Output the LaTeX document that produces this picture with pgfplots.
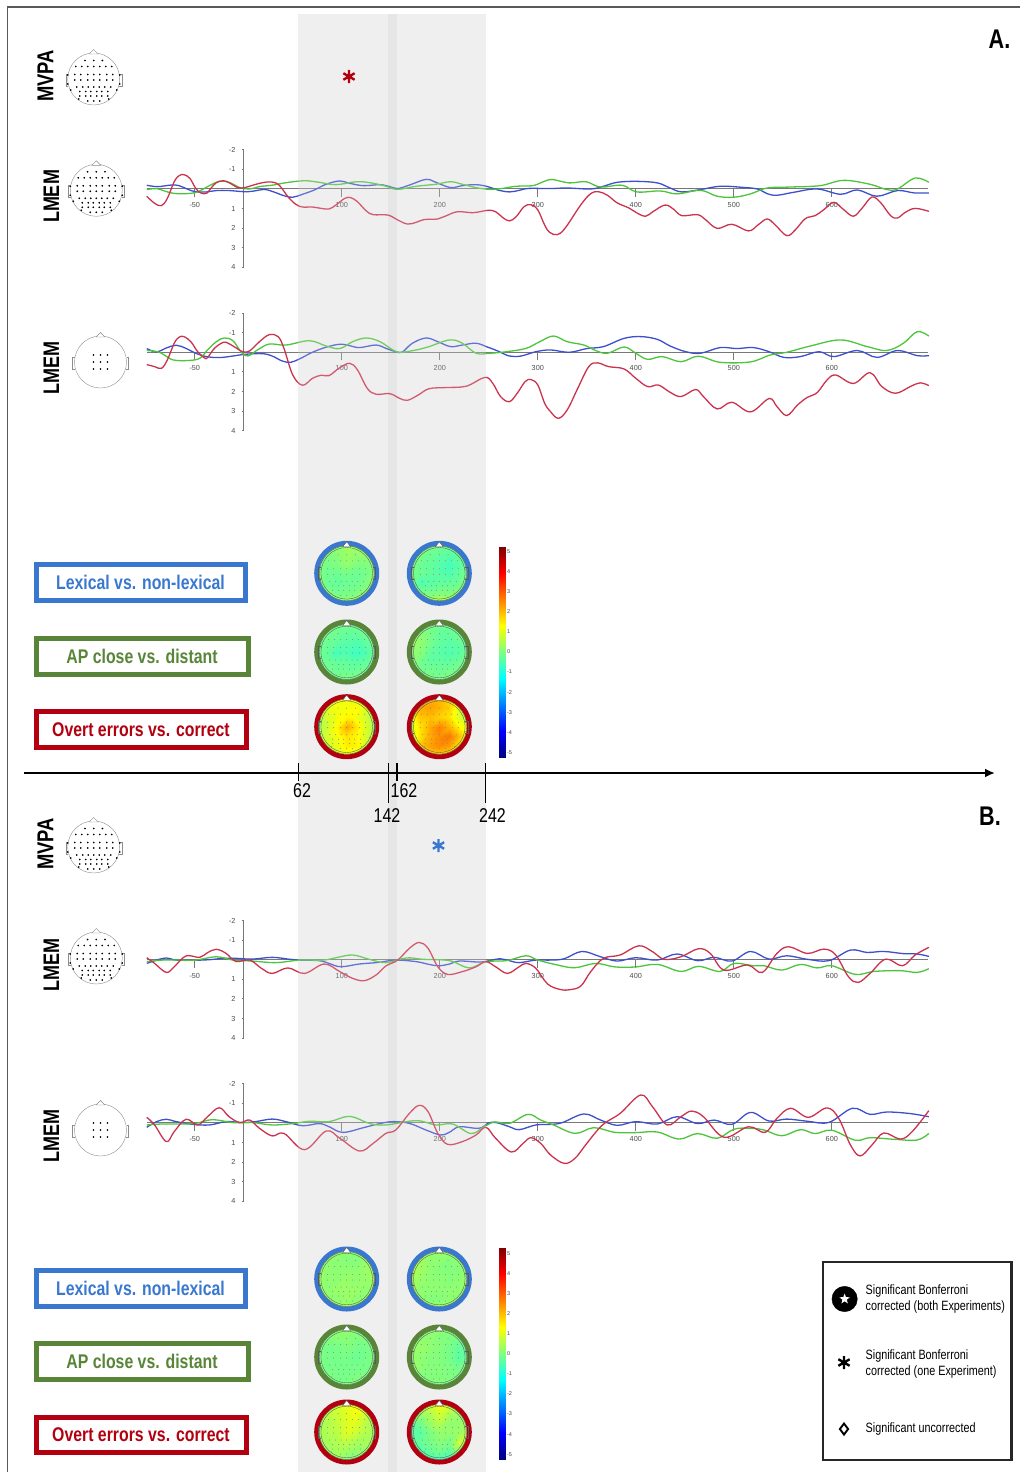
\documentclass[border=0pt]{standalone}
\usepackage{fontspec}
\setmainfont{Liberation Sans}
\newfontfamily\nar[FakeStretch=0.8]{Liberation Sans}
\usepackage{pgfplots}
\usepackage{pgfplotstable}
\pgfplotsset{compat=1.18}
\usetikzlibrary{arrows.meta,shapes.geometric}

\definecolor{erpred}{RGB}{203,50,78}
\definecolor{erpblue}{RGB}{60,80,205}
\definecolor{erpgreen}{RGB}{76,196,60}
\definecolor{axgray}{RGB}{120,120,120}
\definecolor{band}{RGB}{239,239,239}
\definecolor{bandd}{RGB}{230,230,230}
\definecolor{boxblue}{RGB}{58,120,208}
\definecolor{boxgreen}{RGB}{88,133,56}
\definecolor{boxred}{RGB}{178,0,16}

% electrode layout, px from the head centre
\pgfplotstableread{
x y
-8.7 -18.5
0 -18.5
8.7 -18.5
-18 -12.5
-12 -12.5
-6 -12.5
0 -12.5
6 -12.5
12 -12.5
18 -12.5
-19 -4.5
-13 -4.5
-6 -4.5
0 -4.5
6 -4.5
13 -4.5
19 -4.5
-19 1
-13 1
-6 1
0 1
6 1
13 1
19 1
-17 8
-11 8
-5.5 8
0 8
5.5 8
11 8
17 8
-14 12.5
-8 12.5
-3 12.5
3 12.5
8 12.5
14 12.5
-14 17
-8 17
-3 17
3 17
8 17
14 17
-6 22
0 22
6 22
-26 -4
26 -4
-26 5
26 5
-23 11
23 11
-15 20
15 20
}\elec
\pgfplotstableread{
x y
-7 -7
0 -7
7 -7
-7 0
0 0
7 0
-7 7
0 7
7 7
}\elecc

% scalp maps, 7 by 7, rows from the top, in microvolts
\pgfplotstableread[header=false,row sep=\\]{0.2\\0.2\\0.2\\0.3\\0.3\\0.3\\0.3\\%
0.1\\0.0\\0.1\\0.3\\0.2\\0.2\\0.3\\%
0.0\\-0.1\\0.0\\0.2\\0.0\\0.0\\0.2\\%
0.0\\-0.2\\-0.2\\-0.1\\-0.2\\-0.1\\0.2\\%
0.1\\-0.2\\-0.3\\-0.2\\-0.2\\0.0\\0.2\\%
0.2\\0.0\\-0.1\\-0.1\\0.0\\0.1\\0.3\\%
0.4\\0.3\\0.2\\0.2\\0.3\\0.4\\0.4\\}\mapAa
\pgfplotstableread[header=false,row sep=\\]{0.3\\0.1\\0.0\\-0.1\\-0.1\\0.0\\0.2\\%
0.2\\-0.1\\-0.2\\-0.3\\-0.4\\-0.2\\0.0\\%
0.1\\-0.2\\-0.3\\-0.4\\-0.6\\-0.4\\-0.1\\%
0.0\\-0.2\\-0.3\\-0.4\\-0.5\\-0.3\\0.0\\%
-0.1\\-0.5\\-0.4\\-0.3\\-0.3\\-0.2\\0.1\\%
0.2\\-0.1\\-0.1\\0.0\\0.0\\0.1\\0.3\\%
0.5\\0.4\\0.5\\0.7\\0.5\\0.4\\0.4\\}\mapAb
\pgfplotstableread[header=false,row sep=\\]{0.0\\0.0\\-0.1\\-0.1\\-0.1\\0.0\\0.1\\%
0.0\\-0.1\\-0.2\\-0.3\\-0.3\\-0.1\\0.0\\%
-0.1\\-0.2\\-0.3\\-0.4\\-0.5\\-0.3\\-0.1\\%
-0.1\\-0.3\\-0.6\\-0.5\\-0.7\\-0.5\\-0.1\\%
-0.1\\-0.2\\-0.3\\-0.3\\-0.4\\-0.3\\-0.1\\%
0.0\\-0.1\\-0.2\\-0.2\\-0.2\\-0.1\\0.0\\%
0.1\\0.0\\0.0\\0.0\\0.0\\0.0\\0.1\\}\mapAc
\pgfplotstableread[header=false,row sep=\\]{0.1\\0.0\\-0.1\\-0.1\\-0.1\\0.0\\0.2\\%
0.2\\0.1\\-0.1\\-0.3\\-0.3\\-0.1\\0.0\\%
0.4\\0.2\\-0.1\\-0.3\\-0.4\\-0.3\\-0.1\\%
0.3\\0.1\\-0.3\\-0.4\\-0.5\\-0.4\\-0.1\\%
0.1\\-0.1\\-0.3\\-0.3\\-0.3\\-0.2\\0.0\\%
0.1\\-0.1\\-0.1\\-0.2\\-0.1\\-0.1\\0.1\\%
0.2\\0.1\\0.0\\0.0\\0.0\\0.1\\0.2\\}\mapAd
\pgfplotstableread[header=false,row sep=\\]{1.0\\1.1\\1.2\\1.2\\1.1\\0.9\\0.8\\%
0.9\\1.1\\1.2\\1.2\\1.3\\1.0\\0.5\\%
0.6\\0.9\\1.2\\1.4\\1.2\\0.8\\0.4\\%
0.4\\0.8\\1.4\\2.2\\1.6\\0.9\\0.4\\%
0.5\\0.9\\1.2\\1.6\\1.4\\0.9\\0.4\\%
0.4\\0.8\\1.1\\1.5\\1.4\\0.9\\0.4\\%
0.6\\0.6\\0.8\\0.9\\0.8\\0.6\\0.6\\}\mapAe
\pgfplotstableread[header=false,row sep=\\]{1.5\\1.8\\2.0\\2.0\\1.7\\1.2\\1.0\\%
1.6\\2.2\\2.3\\2.1\\1.8\\1.0\\0.6\\%
1.3\\1.9\\2.0\\1.8\\1.6\\0.9\\0.7\\%
1.0\\1.6\\2.2\\2.6\\2.1\\1.4\\0.9\\%
0.8\\1.6\\2.2\\2.5\\2.7\\2.0\\1.1\\%
0.9\\1.9\\2.3\\2.5\\2.3\\1.4\\1.0\\%
1.2\\1.3\\1.6\\1.7\\1.5\\1.2\\1.1\\}\mapAf
\pgfplotstableread[header=false,row sep=\\]{0.25\\0.25\\0.25\\0.15\\0.15\\0.25\\0.35\\%
0.25\\0.15\\0.15\\0.05\\0.05\\0.25\\0.35\\%
0.25\\0.15\\0.15\\0.15\\0.15\\0.25\\0.35\\%
0.25\\0.15\\0.15\\0.25\\0.15\\0.25\\0.35\\%
0.25\\0.15\\0.25\\0.25\\0.25\\0.15\\0.35\\%
0.25\\0.15\\0.15\\0.25\\0.15\\0.15\\0.35\\%
0.35\\0.35\\0.25\\0.25\\0.25\\0.35\\0.35\\}\mapBa
\pgfplotstableread[header=false,row sep=\\]{0.35\\0.35\\0.25\\0.25\\0.25\\0.25\\0.35\\%
0.35\\0.35\\0.15\\0.15\\0.05\\0.15\\0.25\\%
0.45\\0.35\\0.15\\0.05\\0.05\\0.05\\0.25\\%
0.45\\0.25\\0.15\\0.15\\0.05\\0.15\\0.25\\%
0.35\\0.15\\0.15\\0.15\\0.15\\0.15\\0.25\\%
0.35\\0.15\\0.05\\0.05\\0.15\\0.15\\0.25\\%
0.35\\0.35\\0.25\\0.25\\0.25\\0.25\\0.35\\}\mapBb
\pgfplotstableread[header=false,row sep=\\]{0.1\\0.1\\0.15\\0.15\\0.1\\0.1\\0.1\\%
0.0\\0.0\\0.1\\0.1\\0.0\\0.0\\0.1\\%
0.0\\-0.1\\-0.1\\0.0\\-0.1\\-0.1\\0.0\\%
0.0\\-0.1\\-0.1\\-0.1\\-0.2\\-0.1\\0.0\\%
0.0\\-0.1\\-0.1\\-0.1\\-0.1\\-0.1\\0.0\\%
0.0\\0.0\\-0.1\\-0.1\\0.0\\0.0\\0.1\\%
0.1\\0.1\\0.0\\0.0\\0.0\\0.1\\0.1\\}\mapBc
\pgfplotstableread[header=false,row sep=\\]{0.25\\0.25\\0.15\\0.15\\0.05\\0.05\\0.05\\%
0.25\\0.15\\0.15\\0.05\\0.0\\-0.1\\-0.1\\%
0.25\\0.25\\0.15\\0.05\\-0.1\\-0.3\\-0.2\\%
0.25\\0.15\\0.05\\0.05\\-0.1\\-0.4\\-0.2\\%
0.25\\0.15\\0.05\\0.05\\0.0\\-0.1\\-0.1\\%
0.15\\0.05\\0.05\\0.05\\0.0\\0.0\\0.0\\%
0.15\\0.15\\0.05\\0.05\\0.05\\0.05\\0.05\\}\mapBd
\pgfplotstableread[header=false,row sep=\\]{0.5\\0.6\\0.8\\1.1\\1.3\\0.9\\0.5\\%
0.5\\0.6\\0.8\\1.0\\1.2\\0.8\\0.5\\%
0.4\\0.5\\0.7\\1.0\\1.0\\0.6\\0.4\\%
0.4\\0.5\\0.6\\1.0\\0.8\\0.5\\0.4\\%
0.3\\0.4\\0.5\\0.6\\0.4\\0.4\\0.4\\%
0.3\\0.3\\0.4\\0.3\\0.2\\0.3\\0.4\\%
0.4\\0.4\\0.2\\0.0\\0.1\\0.3\\0.4\\}\mapBe
\pgfplotstableread[header=false,row sep=\\]{0.9\\0.9\\1.0\\1.2\\1.0\\0.6\\0.5\\%
0.4\\0.3\\0.5\\0.9\\0.5\\0.3\\0.3\\%
0.0\\-0.1\\0.3\\0.6\\0.2\\0.2\\0.3\\%
-0.3\\-0.4\\0.0\\0.2\\0.2\\0.3\\0.4\\%
-0.3\\-0.3\\-0.1\\0.1\\-0.1\\0.8\\0.5\\%
-0.3\\-0.4\\-0.3\\-0.1\\-0.3\\0.2\\0.3\\%
0.2\\-0.3\\-0.6\\-0.7\\-0.5\\0.0\\0.3\\}\mapBf

\pgfplotsset{
  px/.style={width=1020pt,height=1472pt,scale only axis,xmin=0,xmax=1020,ymin=0,ymax=1472,
    y dir=reverse,hide axis,clip=false,anchor=center,at={(510pt,736pt)}},
  erp/.style={width=781.3pt,height=117.6pt,scale only axis,anchor=center,
    xmin=-98.7,xmax=698.5,ymin=-2,ymax=4,y dir=reverse,clip=false,
    axis x line=middle,axis y line=middle,
    axis line style={-,draw=axgray,line width=1pt},
    xtick={-50,100,200,300,400,500,600},ytick={-2,-1,1,2,3,4},
    tick align=outside,
    /pgf/number format/assume math mode=true,
    tick style={draw=axgray,line width=0.8pt},
    xtick style={/pgfplots/major tick length=-8pt},
    ytick style={/pgfplots/major tick length=2pt},
    xticklabel style={font=\fontsize{7.3}{8}\selectfont,text=black!70,yshift=-5.5pt},
    yticklabel style={font=\fontsize{7.3}{8}\selectfont,text=black!70,xshift=-0.5pt},
    smooth,tension=0.6},
  curve/.style={line width=1.3pt,line join=round},
  colbar/.style={width=6.2pt,scale only axis,anchor=center,xmin=0,xmax=1,
    axis line style={draw=black!25,line width=0.3pt},xtick=\empty,ytick={-5,...,5},
    ytick pos=right,yticklabel pos=right,ytick style={draw=none},
    /pgf/number format/assume math mode=true,
    yticklabel style={font=\fontsize{5.5}{6}\selectfont,text=black!75,xshift=-1.5pt},
    colormap/jet,point meta min=-5.25,point meta max=5.25},
}

\newcommand\topo[3]{%
  \begin{scope}
  \clip (#1pt,{1472pt-#2pt}) circle (28pt);
  \begin{axis}[width=58pt,height=58pt,scale only axis,hide axis,anchor=center,
    at={(#1pt,{1472pt-#2pt})},xmin=0,xmax=6,ymin=0,ymax=6,colormap/jet,
    point meta min=-5.25,point meta max=5.25]
  \addplot[surf,shader=interp,mesh/cols=7,point meta=\thisrowno{0}]
    table[x index=0,y index=0,x expr={mod(\coordindex,7)},y expr={6-floor(\coordindex/7)}] {#3};
  \end{axis}
  \end{scope}}

\newcommand\ring[3]{%
  \draw[#3,line width=4.8pt] (axis cs:#1,#2) circle (30.1pt);
  \draw[black!65,line width=0.35pt] (axis cs:#1,#2) circle (27.5pt);
  \draw[black!65,line width=0.35pt] (axis cs:#1,#2) circle (25.8pt);
  \addplot[draw=black!70,line width=0.35pt,fill=white] coordinates {(#1-4,#2-26.5)(#1,#2-31.5)(#1+4,#2-26.5)} --cycle;
  \addplot[draw=black!65,line width=0.35pt] coordinates {(#1-25.8,#2-6)(#1-28.5,#2-6)(#1-28.5,#2+6)(#1-25.8,#2+6)};
  \addplot[draw=black!65,line width=0.35pt] coordinates {(#1+25.8,#2-6)(#1+28.5,#2-6)(#1+28.5,#2+6)(#1+25.8,#2+6)};
  \addplot[only marks,mark=*,mark size=0.22pt,black!45] table[x expr=\thisrow{x}+#1,y expr=\thisrow{y}+#2] {\elec};}

\newcommand\head[3]{%
  \draw[black!45,line width=0.4pt,fill=white] (axis cs:#1,#2) circle (26pt);
  \addplot[draw=black!45,line width=0.4pt,fill=white] coordinates {(#1-4.5,#2-25)(#1,#2-29.5)(#1+4.5,#2-25)} --cycle;
  \addplot[draw=black!45,line width=0.4pt] coordinates {(#1-26,#2-5)(#1-28,#2-5)(#1-28,#2+7)(#1-25.5,#2+7)};
  \addplot[draw=black!45,line width=0.4pt] coordinates {(#1+26,#2-5)(#1+28,#2-5)(#1+28,#2+7)(#1+25.5,#2+7)};
  \addplot[only marks,mark=*,mark size=0.62pt,black] table[x expr=\thisrow{x}+#1,y expr=\thisrow{y}+#2] {#3};}

\newcommand\lab[6]{% x0 x1 y0 y1 colour text
  \addplot[draw=#5,line width=5pt,line join=miter] coordinates {(#1+2.5,#3+2.5)(#2-2.5,#3+2.5)(#2-2.5,#4-2.5)(#1+2.5,#4-2.5)} --cycle;
  \node[text=#5] at (axis cs:{(#1+#2)/2},{(#3+#4)/2}) {\fontsize{19.8}{24}\nar\bfseries #6};}

\begin{document}
\begin{tikzpicture}
\path[use as bounding box] (0,0) rectangle (1020pt,1472pt);

\begin{axis}[px]
% shaded windows
\addplot[fill=band,draw=none] coordinates {(298,14.5)(486,14.5)(486,1472)(298,1472)} --cycle;
\addplot[fill=bandd,draw=none] coordinates {(387.5,14.5)(397,14.5)(397,1472)(387.5,1472)} --cycle;
% frame
\addplot[draw=black!65,line width=1.3pt] coordinates {(7.5,1472)(7.5,7)(1020,7)};
% time axis
\addplot[-{Latex[length=10pt,width=9pt]},line width=2.5pt] coordinates {(24,773)(995,773)};
\addplot[line width=1.1pt] coordinates {(298.3,763)(298.3,781)};
\addplot[line width=1.1pt] coordinates {(388.7,763)(388.7,803)};
\addplot[line width=1.1pt] coordinates {(397,763)(397,781)};
\addplot[line width=1.1pt] coordinates {(485.7,763)(485.7,803)};
\node at (axis cs:302,791) {\fontsize{20}{22}\nar 62};
\node at (axis cs:404,791) {\fontsize{20}{22}\nar 162};
\node at (axis cs:387,816) {\fontsize{20}{22}\nar 142};
\node at (axis cs:492.5,816) {\fontsize{20}{22}\nar 242};
% panel letters
\node at (axis cs:999.5,39) {\fontsize{27}{30}\nar\bfseries A.};
\node at (axis cs:990,816) {\fontsize{27}{30}\nar\bfseries B.};
% row names
\node[rotate=90] at (axis cs:45.5,76) {\fontsize{23}{26}\nar\bfseries MVPA};
\node[rotate=90] at (axis cs:51.5,196.5) {\fontsize{22.5}{26}\nar\bfseries LMEM};
\node[rotate=90] at (axis cs:51.5,368) {\fontsize{22.5}{26}\nar\bfseries LMEM};
\node[rotate=90] at (axis cs:45.5,844) {\fontsize{23}{26}\nar\bfseries MVPA};
\node[rotate=90] at (axis cs:51.5,965) {\fontsize{22.5}{26}\nar\bfseries LMEM};
\node[rotate=90] at (axis cs:51.5,1136) {\fontsize{22.5}{26}\nar\bfseries LMEM};
\head{93.7}{79}{\elec}
\head{96.3}{190.3}{\elec}
\head{100.5}{362}{\elecc}
\head{93.7}{847}{\elec}
\head{96.3}{958}{\elec}
\head{100.5}{1130}{\elecc}
% significance marks
\addplot[only marks,mark=asterisk,mark size=6.5pt,line width=2.4pt,boxred] coordinates {(349,76.5)};
\addplot[only marks,mark=asterisk,mark size=6.5pt,line width=2.4pt,boxblue] coordinates {(438.5,845.5)};
% contrast labels
\lab{33.5}{247.5}{562}{603}{boxblue}{Lexical vs. non-lexical}
\lab{33.5}{250.5}{635.7}{676.7}{boxgreen}{AP close vs. distant}
\lab{33.5}{248.5}{709}{749.7}{boxred}{Overt errors vs. correct}
\lab{33.5}{247.5}{1267.5}{1308.5}{boxblue}{Lexical vs. non-lexical}
\lab{33.5}{250.5}{1341.2}{1382.2}{boxgreen}{AP close vs. distant}
\lab{33.5}{248.5}{1414.5}{1455.2}{boxred}{Overt errors vs. correct}
% key
\addplot[draw=black!85,line width=2.6pt,fill=white,line join=miter] coordinates {(823,1262)(1011.5,1262)(1011.5,1460)(823,1460)} --cycle;
\addplot[only marks,mark=*,mark size=12.7pt,black] coordinates {(844.6,1299)};
\addplot[only marks,mark=asterisk,mark size=6.5pt,line width=2.4pt,black] coordinates {(844,1362.5)};
\addplot[only marks,mark=diamond,mark size=5.5pt,line width=1.9pt,black] coordinates {(844,1429)};
\node[anchor=west,inner sep=0pt] at (axis cs:865.5,1290.7) {\fontsize{13.5}{15}\nar Significant Bonferroni};
\node[anchor=west,inner sep=0pt] at (axis cs:865.5,1306.7) {\fontsize{13.5}{15}\nar corrected (both Experiments)};
\node[anchor=west,inner sep=0pt] at (axis cs:865.5,1355.7) {\fontsize{13.5}{15}\nar Significant Bonferroni};
\node[anchor=west,inner sep=0pt] at (axis cs:865.5,1372) {\fontsize{13.5}{15}\nar corrected (one Experiment)};
\node[anchor=west,inner sep=0pt] at (axis cs:865.5,1428.7) {\fontsize{13.5}{15}\nar Significant uncorrected};
\end{axis}

% A, whole scalp
\begin{axis}[erp,at={(537.7pt,1263.4pt)}]
\addplot[curve,erpblue] coordinates {(-99,-0.19)(-88,-0.12)(-74,-0.20)(-66,-0.17)(-57,0.02)(-49,0.14)(-38,0.15)(-28,0.08)(-15,0.08)(1,0.14)(11,0.10)(21,0.02)(30,0.14)(42,0.36)(50,0.42)(60,0.27)(72,0.05)(84,-0.24)(98,-0.41)(108,-0.29)(122,-0.17)(139,-0.22)(149,-0.12)(157,-0.02)(169,-0.20)(186,-0.49)(196,-0.34)(211,-0.07)(223,-0.17)(237,-0.22)(249,-0.12)(259,0.05)(271,0.15)(281,0.07)(291,-0.03)(312,-0.02)(330,-0.05)(354,0)(367,-0.14)(381,-0.34)(401,-0.39)(422,-0.31)(435,-0.05)(447,0.15)(466,0.03)(486,-0.14)(507,-0.09)(524,0)(534,0.24)(544,0.32)(561,0.17)(585,0)(609,0.27)(626,0.05)(646,0.37)(667,0.08)(684,0.20)(699,0.20)};
\addplot[curve,erpgreen] coordinates {(-99,0.03)(-89,-0.02)(-81,0.10)(-72,0.22)(-59,0.24)(-47,0.15)(-37,-0.12)(-25,-0.39)(-15,-0.34)(-4,-0.07)(6,0)(16,-0.12)(30,-0.20)(43,-0.32)(62,-0.42)(77,-0.34)(94,-0.22)(115,-0.37)(130,-0.31)(145,-0.14)(157,0.02)(176,-0.14)(196,-0.24)(211,-0.37)(223,-0.24)(237,-0.07)(251,0.02)(264,-0.03)(278,-0.14)(295,-0.17)(306,-0.38)(315,-0.48)(332,-0.31)(349,-0.37)(364,-0.10)(386,-0.19)(401,0.15)(425,0.10)(442,0.25)(466,0.07)(483,0.37)(500,0.42)(517,0.25)(534,-0.05)(558,-0.10)(588,-0.17)(612,-0.44)(639,-0.24)(656,0.03)(667,0)(685,-0.56)(699,-0.34)};
\addplot[curve,erpred] coordinates {(-99,0.37)(-91,0.73)(-84,0.85)(-78,0.48)(-71,-0.37)(-66,-0.68)(-61,-0.73)(-55,-0.54)(-49,-0.03)(-44,0.20)(-38,0.22)(-33,-0.07)(-28,-0.32)(-21,-0.42)(-15,-0.32)(-6,-0.07)(1,-0.07)(9,-0.19)(19,-0.32)(28,-0.36)(36,-0.20)(45,0.39)(53,0.78)(60,0.92)(70,0.92)(79,0.99)(87,1.02)(94,0.82)(103,0.48)(109,0.44)(116,0.65)(125,1.12)(132,1.31)(147,1.33)(157,1.58)(167,1.79)(176,1.70)(184,1.56)(198,1.53)(206,1.38)(218,1.16)(234,1.21)(249,1.09)(257,1.16)(264,1.45)(271,1.63)(278,1.41)(286,0.90)(293,0.80)(300,1.07)(307,1.84)(312,2.21)(320,2.33)(328,1.99)(344,0.80)(354,0.24)(362,0.14)(371,0.32)(381,0.71)(393,0.97)(401,1.22)(410,1.39)(418,1.14)(430,0.82)(439,1.05)(447,1.36)(463,1.31)(471,1.56)(483,2.01)(498,1.80)(515,2.14)(525,1.82)(534,1.53)(542,1.82)(554,2.38)(563,2.07)(573,1.51)(583,1.36)(592,1.05)(602,0.68)(612,1.05)(622,1.39)(631,0.97)(641,0.41)(650,0.71)(660,1.36)(667,1.48)(675,1.19)(685,0.99)(699,1.14)};
\end{axis}

% A, central electrodes
\begin{axis}[erp,at={(537.7pt,1100.1pt)}]
\addplot[curve,erpblue] coordinates {(-99,-0.19)(-89,-0.02)(-79,-0.22)(-69,-0.36)(-59,-0.20)(-49,0.05)(-38,0.22)(-25,0.27)(-11,0.19)(2,0.10)(19,0.07)(29,0.19)(39,0.44)(48,0.51)(58,0.31)(70,0)(84,-0.26)(98,-0.41)(108,-0.34)(118,-0.24)(135,-0.37)(145,-0.20)(156,-0.02)(162,-0.02)(172,-0.46)(186,-0.73)(198,-0.54)(211,-0.29)(223,-0.37)(237,-0.46)(249,-0.26)(259,-0.07)(271,0.19)(283,0.19)(298,-0.03)(313,-0.12)(332,0)(350,-0.19)(367,-0.29)(388,-0.71)(405,-0.80)(422,-0.66)(435,-0.32)(451,-0.03)(466,0.05)(486,-0.24)(503,-0.19)(520,-0.24)(536,-0.03)(551,0.26)(568,0.22)(587,-0.03)(602,0.22)(626,-0.09)(646,0.26)(667,-0.09)(687,0.17)(699,0.17)};
\addplot[curve,erpgreen] coordinates {(-99,-0.09)(-88,-0.03)(-81,0.14)(-72,0.39)(-57,0.42)(-45,0.31)(-37,-0.12)(-28,-0.54)(-20,-0.73)(-11,-0.59)(-3,-0.03)(4,0.19)(14,-0.12)(26,-0.42)(43,-0.37)(67,-0.59)(84,-0.32)(98,-0.19)(111,-0.54)(125,-0.73)(139,-0.54)(152,-0.12)(160,0)(176,-0.12)(189,-0.29)(210,-0.63)(223,-0.46)(237,0.05)(251,0.05)(268,-0.03)(288,-0.20)(302,-0.54)(316,-0.83)(330,-0.54)(347,-0.37)(359,-0.09)(371,0.05)(388,-0.27)(400,0.05)(412,0.36)(427,0.22)(446,0.48)(464,0.20)(486,0.51)(517,0.49)(537,0.14)(554,0)(578,-0.32)(609,-0.63)(636,-0.29)(656,-0.09)(673,-0.46)(687,-1.05)(699,-0.83)};
\addplot[curve,erpred] coordinates {(-99,0.63)(-91,0.73)(-84,0.82)(-78,0.39)(-71,-0.46)(-66,-0.77)(-61,-0.80)(-54,-0.54)(-47,-0.03)(-40,0.29)(-37,0.27)(-30,-0.20)(-23,-0.46)(-18,-0.51)(-10,-0.29)(-1,-0.03)(6,-0.07)(16,-0.54)(26,-0.90)(35,-0.80)(41,-0.20)(50,1.16)(60,1.68)(70,1.33)(79,1.17)(87,1.19)(97,0.82)(108,0.56)(116,0.90)(126,1.84)(135,2.14)(149,2.11)(159,2.35)(167,2.45)(178,2.18)(189,1.86)(206,1.80)(227,1.73)(246,1.28)(254,1.58)(262,2.26)(271,2.52)(279,2.09)(287,1.50)(293,1.39)(300,1.67)(307,2.60)(313,3.03)(321,3.37)(330,2.94)(340,1.92)(352,0.73)(361,0.54)(372,0.73)(388,0.85)(400,1.33)(412,1.75)(423,1.67)(434,2.01)(446,2.26)(461,1.90)(469,2.26)(483,2.89)(498,2.55)(517,3.04)(536,2.36)(544,2.77)(554,3.23)(565,2.69)(575,2.30)(585,2.06)(595,1.42)(604,1.16)(622,1.59)(639,1.04)(651,1.75)(665,2.09)(680,1.75)(690,1.56)(699,1.70)};
\end{axis}

% B, whole scalp
\begin{axis}[erp,at={(537.7pt,492.7pt)}]
\addplot[curve,erpblue] coordinates {(-99,0.19)(-89,0.02)(-79,-0.09)(-69,0.02)(-52,0.03)(-35,0)(-21,-0.07)(-8,-0.07)(9,-0.03)(29,-0.12)(47,-0.02)(57,0.02)(77,0.05)(87,0.19)(99,0.36)(118,0.22)(137,0.14)(155,0.02)(176,0.10)(189,0.24)(199,0.31)(210,0.22)(220,0.07)(240,0.12)(251,0.05)(261,-0.05)(271,0.05)(281,0.15)(298,0.02)(313,0.02)(327,-0.05)(345,-0.42)(364,-0.15)(381,0.07)(400,-0.10)(422,0.02)(442,-0.29)(463,0.05)(480,-0.12)(498,0.07)(517,-0.42)(536,-0.03)(554,-0.20)(575,-0.02)(597,0.05)(619,-0.49)(636,-0.37)(653,-0.42)(673,-0.31)(687,-0.29)(699,-0.17)};
\addplot[curve,erpgreen] coordinates {(-99,0.10)(-83,0.02)(-66,0.02)(-49,0.02)(-28,-0.15)(-11,0.02)(9,0.07)(33,0.15)(57,0.02)(81,0.02)(94,-0.10)(111,-0.24)(128,-0.02)(145,0.15)(166,-0.09)(183,-0.02)(210,0.05)(230,0.42)(247,0.10)(268,0.05)(288,-0.20)(300,0.02)(320,0.27)(338,0.41)(359,0.19)(379,0.37)(400,0.37)(422,0.24)(446,0.60)(464,0.34)(486,0.60)(500,0.19)(520,0.31)(531,0.31)(549,0.53)(568,0.24)(585,0.42)(600,0.31)(624,0.75)(643,0.60)(670,0.56)(687,0.65)(699,0.46)};
\addplot[curve,erpred] coordinates {(-99,-0.10)(-91,0.19)(-79,0.65)(-71,0.36)(-59,-0.19)(-45,-0.12)(-37,-0.36)(-28,-0.53)(-18,-0.32)(-8,0.09)(6,0.02)(18,0.44)(29,0.70)(45,0.42)(62,0.70)(82,0.22)(98,0.61)(111,0.95)(123,1.07)(135,0.78)(145,0.32)(157,0.02)(169,-0.58)(179,-0.88)(188,-0.58)(198,0.36)(208,0.75)(223,0.61)(237,0.36)(247,0.10)(257,0.36)(269,0.70)(281,0.36)(288,0.19)(298,0.44)(310,1.24)(323,1.52)(333,1.53)(344,1.34)(354,0.61)(367,-0.07)(384,-0.24)(403,-0.71)(417,-0.41)(429,-0.02)(446,-0.15)(464,-0.56)(476,-0.32)(490,0.53)(514,0.27)(529,0.65)(544,-0.32)(556,-0.66)(575,-0.32)(592,-0.54)(604,-0.24)(617,0.87)(627,1.16)(639,0.70)(655,-0.03)(672,0.31)(685,-0.24)(699,-0.63)};
\end{axis}

% B, central electrodes
\begin{axis}[erp,at={(537.7pt,329.4pt)}]
\addplot[curve,erpblue] coordinates {(-99,0.22)(-89,-0.07)(-79,-0.19)(-69,-0.07)(-52,0.07)(-35,0.10)(-18,-0.07)(-1,-0.02)(12,-0.07)(29,-0.20)(43,-0.07)(60,0.14)(77,0.03)(87,0.19)(101,0.48)(122,0.24)(137,0.05)(152,-0.07)(169,0.02)(186,0.36)(201,0.61)(211,0.44)(220,0.19)(240,0.27)(249,0.02)(257,-0.03)(271,0.19)(281,0.34)(298,0.10)(313,0.07)(325,-0.02)(347,-0.46)(364,-0.15)(381,0.12)(400,-0.07)(422,0.05)(442,-0.32)(463,0.03)(480,-0.15)(498,0.07)(517,-0.54)(536,-0.10)(554,-0.20)(575,-0.09)(597,-0.03)(621,-0.75)(639,-0.44)(656,-0.56)(680,-0.48)(699,-0.32)};
\addplot[curve,erpgreen] coordinates {(-99,0.10)(-83,0.05)(-66,0.05)(-49,0.02)(-32,-0.17)(-11,-0.02)(9,-0.02)(29,0.10)(50,0.03)(67,-0.09)(87,-0.07)(108,-0.34)(128,0.02)(145,0.10)(176,-0.12)(196,0.10)(213,0.05)(232,0.54)(245,0.19)(256,-0.05)(271,0.02)(290,-0.44)(303,-0.15)(316,0.10)(338,0.53)(357,0.24)(379,0.48)(400,0.49)(422,0.46)(444,0.82)(463,0.54)(483,0.78)(500,0.32)(517,0.27)(531,0.36)(549,0.65)(568,0.34)(583,0.54)(600,0.37)(624,0.88)(639,0.75)(663,0.83)(687,0.87)(699,0.53)};
\addplot[curve,erpred] coordinates {(-99,-0.29)(-91,0.10)(-79,0.95)(-71,0.44)(-59,-0.19)(-47,0.10)(-37,-0.32)(-25,-0.78)(-15,-0.32)(-4,-0.02)(6,-0.15)(16,0.27)(29,0.66)(41,0.53)(62,1.36)(84,0.41)(98,0.78)(118,1.43)(132,1.04)(145,0.53)(155,0.36)(169,-0.49)(179,-0.90)(188,-0.58)(198,0.53)(208,1.09)(223,0.95)(237,0.61)(247,0.22)(257,0.78)(273,1.48)(285,1.04)(293,0.75)(303,1.04)(313,1.63)(327,2.06)(338,1.80)(350,1.04)(366,0.10)(384,-0.49)(405,-1.43)(417,-0.83)(432,0.10)(446,-0.32)(457,-0.61)(469,-0.32)(490,0.73)(515,0.19)(532,0.48)(544,-0.24)(558,-0.75)(576,-0.29)(595,-0.77)(607,-0.24)(619,1.12)(629,1.68)(641,1.12)(653,0.51)(670,0.82)(682,0.44)(699,-0.63)};
\end{axis}

% scalp maps
\topo{346.7}{573.3}{\mapAa}
\topo{439.3}{573.3}{\mapAb}
\topo{346.7}{652}{\mapAc}
\topo{439.3}{652}{\mapAd}
\topo{346.7}{726.7}{\mapAe}
\topo{439.3}{726.7}{\mapAf}
\topo{346.7}{1279}{\mapBa}
\topo{439.3}{1279}{\mapBb}
\topo{346.7}{1357}{\mapBc}
\topo{439.3}{1357}{\mapBd}
\topo{346.7}{1432}{\mapBe}
\topo{439.3}{1432}{\mapBf}

\begin{axis}[px]
% the windows veil the traces a little
\addplot[fill=band,draw=none,opacity=0.22] coordinates {(298,145)(387.5,145)(387.5,440)(298,440)} --cycle;
\addplot[fill=bandd,draw=none,opacity=0.22] coordinates {(387.5,145)(397,145)(397,440)(387.5,440)} --cycle;
\addplot[fill=band,draw=none,opacity=0.22] coordinates {(397,145)(486,145)(486,440)(397,440)} --cycle;
\addplot[fill=band,draw=none,opacity=0.22] coordinates {(298,915)(387.5,915)(387.5,1210)(298,1210)} --cycle;
\addplot[fill=bandd,draw=none,opacity=0.22] coordinates {(387.5,915)(397,915)(397,1210)(387.5,1210)} --cycle;
\addplot[fill=band,draw=none,opacity=0.22] coordinates {(397,915)(486,915)(486,1210)(397,1210)} --cycle;
\ring{346.7}{573.3}{boxblue}
\ring{439.3}{573.3}{boxblue}
\ring{346.7}{652}{boxgreen}
\ring{439.3}{652}{boxgreen}
\ring{346.7}{726.7}{boxred}
\ring{439.3}{726.7}{boxred}
\ring{346.7}{1279}{boxblue}
\ring{439.3}{1279}{boxblue}
\ring{346.7}{1357}{boxgreen}
\ring{439.3}{1357}{boxgreen}
\ring{346.7}{1432}{boxred}
\ring{439.3}{1432}{boxred}
\node[star,star points=5,star point ratio=2.4,fill=white,inner sep=0pt,minimum size=11pt] at (axis cs:844.6,1299) {};
\end{axis}

% colour scales
\begin{axis}[colbar,height=210.6pt,at={(502pt,820pt)},ymin=-5.24,ymax=5.24]
\addplot[surf,shader=interp,mesh/cols=2,point meta=y] coordinates {(0,-5.24)(1,-5.24)(0,5.24)(1,5.24)};
\end{axis}
\begin{axis}[colbar,height=210.6pt,at={(502pt,118.2pt)},ymin=-5.24,ymax=5.24]
\addplot[surf,shader=interp,mesh/cols=2,point meta=y] coordinates {(0,-5.24)(1,-5.24)(0,5.24)(1,5.24)};
\end{axis}
\end{tikzpicture}
\end{document}
